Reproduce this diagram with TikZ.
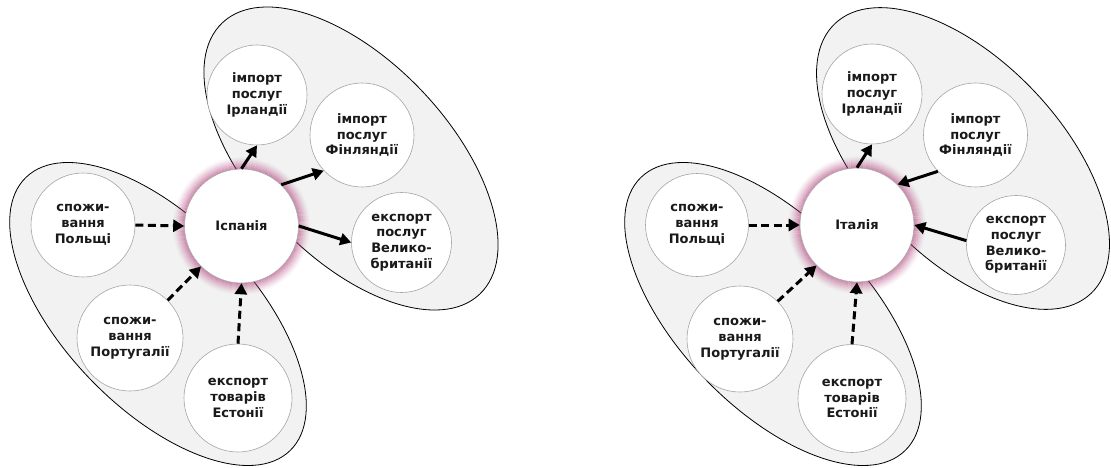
\documentclass[tikz,border=0pt]{standalone}
\usepackage{fontspec}
\setmainfont{DejaVu Sans}
\usetikzlibrary{arrows.meta}
\definecolor{glowc}{RGB}{176,60,120}
\definecolor{blobfill}{RGB}{242,242,242}
\definecolor{ringc}{RGB}{165,165,165}
\tikzset{
  blob/.style={draw=black, line width=0.8pt, fill=blobfill},
  bub/.style={circle, draw=ringc, line width=0.6pt, fill=white, inner sep=0pt,
    align=center, text=black!90, font=\fontsize{13}{15.8}\selectfont\bfseries},
  hub/.style={bub, draw=ringc},
  solidarrow/.style={line width=3pt, -{Triangle[length=11pt,width=12pt]}},
  dasharrow/.style={solidarrow, dash pattern=on 8pt off 4.5pt},
}
\begin{document}
\begin{tikzpicture}[x=1pt, y=-1pt]
\useasboundingbox (0,0) rectangle (1111,468);
\fill[white] (0,0) rectangle (1111,468);

% ---------- left diagram ----------
\path[blob] (351,158.5) ellipse [x radius=187pt, y radius=98pt, rotate=-46.5];
\path[blob] (158,314) ellipse [x radius=190pt, y radius=94pt, rotate=-46];

\coordinate (g1) at (241.5,226);
\foreach \i [evaluate=\i as \op using {0.6*(1-\i/13)^1.4},
             evaluate=\i as \rr using {56.5+\i}] in {1,...,12}
  \draw[glowc, line width=1.05pt, opacity=\op] (g1) circle [radius=\rr pt];

\node[hub, minimum size=114pt] (c) at (241.5,226) {Іспанія};
\node[bub, minimum size=100pt] (irl) at (257,95) {імпорт\\послуг\\Ірландії};
\node[bub, minimum size=104pt] (fin) at (362,135) {імпорт\\послуг\\Фінляндії};
\node[bub, minimum size=100pt] (vel) at (401.5,242.5) {експорт\\послуг\\Велико-\\британії};
\node[bub, minimum size=104pt] (pol) at (83,225) {спожи-\\вання\\Польщі};
\node[bub, minimum size=106pt] (port) at (130,338) {спожи-\\вання\\Португалії};
\node[bub, minimum size=108pt] (est) at (238,398) {експорт\\товарів\\Естонії};

\draw[solidarrow] (c.north) -- (irl.south);
\draw[solidarrow] (c.46) -- (fin.223);
\draw[solidarrow] (c.east) -- (vel.west);
\draw[dasharrow] (pol.east) -- (c.west);
\draw[dasharrow] (port.45) -- (c.225);
\draw[dasharrow] (est.north) -- (c.south);

% ---------- right diagram ----------
\path[blob] (963,158.5) ellipse [x radius=186pt, y radius=98pt, rotate=-46.5];
\path[blob] (773,314) ellipse [x radius=190pt, y radius=94pt, rotate=-46];

\coordinate (g2) at (857,225);
\foreach \i [evaluate=\i as \op using {0.6*(1-\i/13)^1.4},
             evaluate=\i as \rr using {56.5+\i}] in {1,...,12}
  \draw[glowc, line width=1.05pt, opacity=\op] (g2) circle [radius=\rr pt];

\node[hub, minimum size=114pt] (c2) at (857,225) {Італія};
\node[bub, minimum size=100pt] (irl2) at (872,94) {імпорт\\послуг\\Ірландії};
\node[bub, minimum size=104pt] (fin2) at (975.5,135) {імпорт\\послуг\\Фінляндії};
\node[bub, minimum size=99pt] (vel2) at (1016,245) {експорт\\послуг\\Велико-\\британії};
\node[bub, minimum size=103pt] (pol2) at (697,225) {спожи-\\вання\\Польщі};
\node[bub, minimum size=106pt] (port2) at (740,339) {спожи-\\вання\\Португалії};
\node[bub, minimum size=108pt] (est2) at (852,398.5) {експорт\\товарів\\Естонії};

\draw[solidarrow] (c2.north) -- (irl2.south);
\draw[solidarrow] (fin2.224) -- (c2.45);
\draw[solidarrow] (vel2.175) -- (c2.east);
\draw[dasharrow] (pol2.east) -- (c2.west);
\draw[dasharrow] (port2.45) -- (c2.225);
\draw[dasharrow] (est2.north) -- (c2.south);
\end{tikzpicture}
\end{document}
